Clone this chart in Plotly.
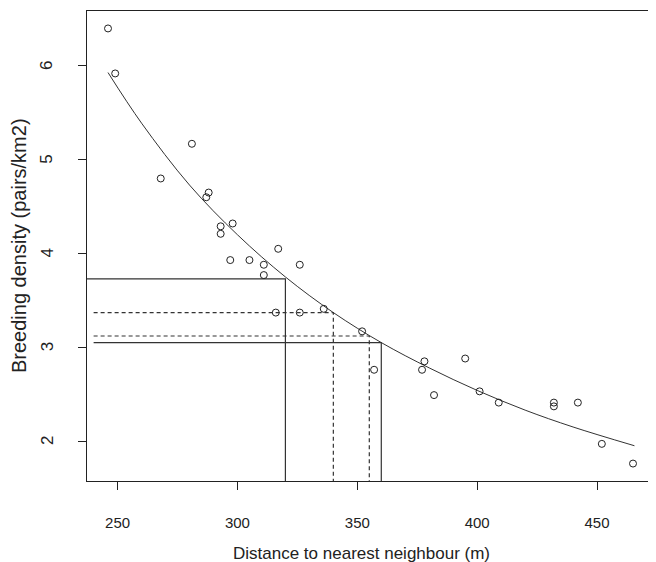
import plotly.graph_objects as go

# Observed points
distance = [246, 249, 268, 281, 288, 287, 298, 293, 293, 317, 297, 305, 311, 326, 311,
            316, 326, 336, 352, 357, 378, 377, 395, 382, 401, 409, 432, 432, 442, 452, 465]
density = [6.40, 5.92, 4.80, 5.17, 4.65, 4.60, 4.32, 4.29, 4.21, 4.05, 3.93, 3.93, 3.88, 3.88, 3.77,
           3.37, 3.37, 3.41, 3.17, 2.76, 2.85, 2.76, 2.88, 2.49, 2.53, 2.41, 2.41, 2.37, 2.41, 1.97, 1.76]

# Fitted curve
curve_x = [246, 260, 280, 300, 320, 340, 360, 380, 400, 420, 440, 465.6]
curve_y = [5.93, 5.39, 4.73, 4.20, 3.75, 3.37, 3.05, 2.78, 2.54, 2.33, 2.15, 1.95]

# Reference drop lines
ref_x = [320, 340, 355, 360]
ref_y = [3.73, 3.37, 3.12, 3.05]
ref_start = [230, 240, 240, 240]
ref_dash = ["solid", "4px,3px", "4px,3px", "solid"]

x_ticks = [250, 300, 350, 400, 450]
y_ticks = [2, 3, 4, 5, 6]

ink = "#222222"
font_family = "Liberation Sans, Arial, sans-serif"
x_min, x_max = 237.24, 473.76
y_min, y_max = 1.574, 6.586

fig = go.Figure()

for xs, yv, xv, d in zip(ref_start, ref_y, ref_x, ref_dash):
    fig.add_trace(go.Scatter(
        x=[xs, xv, xv], y=[yv, yv, y_min - 0.5], mode="lines",
        line=dict(color="#333333", width=1.2, dash=d),
        hoverinfo="skip", showlegend=False))

fig.add_trace(go.Scatter(
    x=curve_x, y=curve_y, mode="lines",
    line=dict(color="#333333", width=1, shape="spline"),
    showlegend=False))

fig.add_trace(go.Scatter(
    x=distance, y=density, mode="markers",
    marker=dict(symbol="circle-open", size=7, color=ink, line=dict(width=1, color=ink)),
    showlegend=False))

axis_common = dict(
    showline=True, mirror=True, linecolor=ink, linewidth=1,
    ticks="outside", ticklen=8, tickcolor=ink, tickwidth=1,
    showgrid=False, zeroline=False,
    tickfont=dict(family=font_family, size=15, color=ink),
)

annotations = [
    dict(text="Distance to nearest neighbour (m)", xref="paper", yref="paper",
         x=(361 - 87) / 567, y=-(553 - 481) / 470, xanchor="center", yanchor="middle",
         showarrow=False,
         font=dict(family=font_family, size=17, color=ink)),
    dict(text="Breeding density (pairs/km2)", xref="paper", yref="paper",
         x=(19 - 87) / 567, y=0.5, xanchor="center", yanchor="middle", showarrow=False,
         textangle=-90,
         font=dict(family=font_family, size=20, color=ink)),
]
for t in y_ticks:
    annotations.append(dict(
        text=str(t), xref="paper", yref="y", x=(47 - 87) / 567, y=t,
        xanchor="center", yanchor="middle", showarrow=False, textangle=-90,
        font=dict(family=font_family, size=17, color=ink)))

# page body has an 8px margin, so the figure is sized/offset to compensate
fig.update_layout(
    width=648, height=554,
    margin=dict(l=79, r=2, t=3, b=81),
    paper_bgcolor="white", plot_bgcolor="white",
    xaxis=dict(range=[x_min, x_max], tickvals=x_ticks, ticklabelstandoff=20, **axis_common),
    yaxis=dict(range=[y_min, y_max], tickvals=y_ticks, showticklabels=False, **axis_common),
    annotations=annotations,
)

fig.write_html("out.html")
